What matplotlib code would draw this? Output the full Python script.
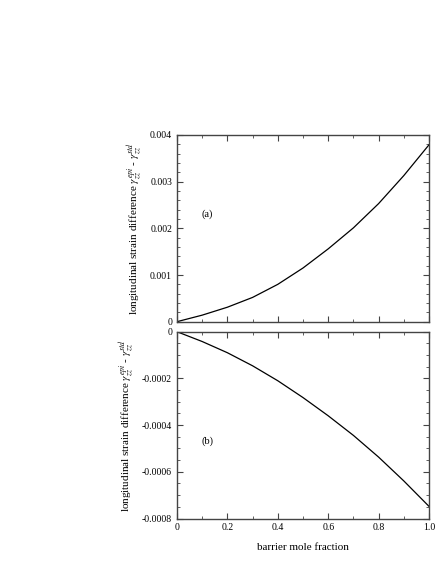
import matplotlib
matplotlib.use('Agg')
import matplotlib.pyplot as plt
from matplotlib.ticker import MultipleLocator, FixedFormatter, FixedLocator

plt.rcParams['font.family'] = ['Liberation Serif', 'DejaVu Serif']
plt.rcParams['mathtext.fontset'] = 'stix'

# barrier mole fraction
mole_fraction = [0.0, 0.1, 0.2, 0.3, 0.4, 0.5, 0.6, 0.7, 0.8, 0.9, 1.0]
# panel (a)
strain_diff_a = [0.0, 0.00014, 0.00031, 0.00052, 0.00080, 0.00115,
                 0.00156, 0.00201, 0.00253, 0.00313, 0.00379]
# panel (b)
strain_diff_b = [0.0, -0.000042, -0.00009, -0.000146, -0.00021, -0.000282,
                 -0.00036, -0.000444, -0.000537, -0.000639, -0.000748]

x_ticks = [0, 0.2, 0.4, 0.6, 0.8, 1.0]
x_labels = ['0', '0.2', '0.4', '0.6', '0.8', '1.0']
ya_ticks = [0, 0.001, 0.002, 0.003, 0.004]
ya_labels = ['0', '0.001', '0.002', '0.003', '0.004']
yb_ticks = [0, -0.0002, -0.0004, -0.0006, -0.0008]
yb_labels = ['0', '-0.0002', '-0.0004', '-0.0006', '-0.0008']

ylabel = r'longitudinal strain difference $\gamma_{zz}^{epi}$ - $\gamma_{zz}^{std}$'

fig = plt.figure(figsize=(4.43, 5.73), dpi=100)
ax1 = fig.add_axes([0.3995, 0.4386, 0.5689, 0.3258])
ax2 = fig.add_axes([0.3995, 0.0951, 0.5689, 0.3260])

spine_col = '#444444'

def style(ax):
    for s in ax.spines.values():
        s.set_linewidth(1.0)
        s.set_color(spine_col)
    ax.tick_params(which='both', direction='in', top=True, right=True,
                   colors=spine_col, labelcolor='black', labelsize=7)
    ax.tick_params(which='major', length=4, width=0.8)
    ax.tick_params(which='minor', length=2, width=0.6)
    ax.xaxis.set_minor_locator(MultipleLocator(0.1))

ax1.plot(mole_fraction, strain_diff_a, color='black', lw=0.9)
ax1.set_xlim(0, 1)
ax1.set_ylim(0, 0.004)
ax1.yaxis.set_major_locator(FixedLocator(ya_ticks))
ax1.yaxis.set_major_formatter(FixedFormatter(ya_labels))
ax1.yaxis.set_minor_locator(MultipleLocator(0.0002))
ax1.xaxis.set_major_locator(FixedLocator(x_ticks))
ax1.set_xticklabels([])
style(ax1)
ax1.set_ylabel(ylabel, fontsize=8)
ax1.text(0.12, 0.0023, '(a)', fontsize=7.5, ha='center', va='center')

ax2.plot(mole_fraction, strain_diff_b, color='black', lw=0.9)
ax2.set_xlim(0, 1)
ax2.set_ylim(-0.0008, 0)
ax2.yaxis.set_major_locator(FixedLocator(yb_ticks))
ax2.yaxis.set_major_formatter(FixedFormatter(yb_labels))
ax2.yaxis.set_minor_locator(MultipleLocator(0.00005))
ax2.xaxis.set_major_locator(FixedLocator(x_ticks))
ax2.xaxis.set_major_formatter(FixedFormatter(x_labels))
style(ax2)
ax2.set_ylabel(ylabel, fontsize=8)
ax2.set_xlabel('barrier mole fraction', fontsize=8, labelpad=8)
ax2.text(0.12, -0.00047, '(b)', fontsize=7.5, ha='center', va='center')

fig.savefig('out.png', dpi=100)
